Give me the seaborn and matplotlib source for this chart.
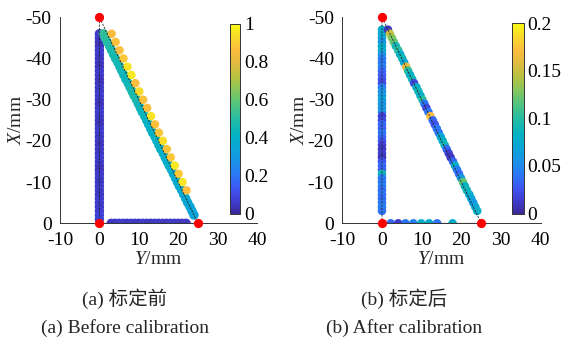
import numpy as np
import pandas as pd
import matplotlib
matplotlib.use("Agg")
import matplotlib.pyplot as plt
import seaborn as sns
from matplotlib.colors import LinearSegmentedColormap, Normalize
from matplotlib.cm import ScalarMappable

# ---------------- data ----------------
# ideal triangle path (Y, X) in mm
ideal_Y = [0, 0, 25, 0]
ideal_X = [0, -50, 0, 0]
ref_Y = [0, 0, 25]
ref_X = [-50, 0, 0]

# (a) before calibration
a_vert_X = [-46, -45, -44, -43, -42, -41, -40, -39, -38, -37, -36, -35, -34, -33, -32, -31,
            -30, -29, -28, -27, -26, -25, -24, -23, -22, -21, -20, -19, -18, -17, -16, -15,
            -14, -13, -12, -11, -10, -9, -8, -7, -6, -5, -4, -3, -2, -1]
a_vert_v = [0.06, 0.07, 0.05, 0.04, 0.06, 0.07, 0.05, 0.06, 0.04, 0.06, 0.07, 0.05, 0.04, 0.06, 0.05, 0.07,
            0.06, 0.04, 0.05, 0.07, 0.06, 0.05, 0.04, 0.06, 0.07, 0.05, 0.06, 0.04, 0.06, 0.05, 0.07, 0.06,
            0.05, 0.04, 0.06, 0.07, 0.05, 0.06, 0.07, 0.05, 0.06, 0.07, 0.06, 0.07, 0.08, 0.08]
a_bot_Y = [3, 4, 5, 6, 7, 8, 9, 10, 11, 12, 13, 14, 15, 16, 17, 18, 19, 20, 21, 22]
a_bot_v = [0.06, 0.05, 0.06, 0.07, 0.05, 0.06, 0.06, 0.05, 0.07, 0.06, 0.05, 0.06, 0.07, 0.06, 0.05,
           0.06, 0.07, 0.06, 0.05, 0.06]
a_diag_X = [-46, -45, -44, -43, -42, -41, -40, -39, -38, -37, -36, -35, -34, -33, -32, -31, -30,
            -29, -28, -27, -26, -25, -24, -23, -22, -21, -20, -19, -18, -17, -16, -15, -14, -13,
            -12, -11, -10, -9, -8, -7, -6, -5, -4, -3, -2]
a_diag_Y = [1.0, 1.5, 2.0, 2.6, 3.1, 3.6, 4.1, 4.7, 5.2, 5.7, 6.2, 6.7, 7.3, 7.8, 8.3, 8.8, 9.4,
            9.9, 10.4, 10.9, 11.5, 12.0, 12.5, 13.0, 13.5, 14.1, 14.6, 15.1, 15.6, 16.2, 16.7, 17.2,
            17.7, 18.3, 18.8, 19.3, 19.8, 20.3, 20.9, 21.4, 21.9, 22.4, 23.0, 23.5, 24.0]
a_diag_v = [0.52, 0.51, 0.50, 0.49, 0.48, 0.47, 0.46, 0.46, 0.45, 0.45, 0.44, 0.44, 0.44, 0.45, 0.47,
            0.48, 0.47, 0.45, 0.44, 0.43, 0.43, 0.42, 0.42, 0.41, 0.41, 0.42, 0.41, 0.40, 0.41, 0.40,
            0.40, 0.39, 0.40, 0.39, 0.39, 0.38, 0.38, 0.38, 0.37, 0.37, 0.36, 0.36, 0.35, 0.35, 0.34]
a_off_X = [-46, -44, -42, -40, -38, -36, -34, -32, -30, -28, -26, -24, -22, -20, -18, -16, -14,
           -12, -10, -8]
a_off_Y = [3.1, 4.1, 5.1, 6.1, 7.1, 8.1, 9.1, 10.1, 11.1, 12.1, 13.1, 14.1, 15.1, 16.1, 17.1, 18.1,
           19.1, 20.1, 21.1, 22.1]
a_off_v = [0.85, 0.87, 0.86, 0.88, 0.95, 0.96, 0.86, 0.93, 0.87, 0.86, 0.95, 0.87, 0.88, 0.94,
           0.87, 0.88, 0.96, 0.88, 0.95, 0.86]

# (b) after calibration
b_vert_X = [-47, -46, -45, -44, -43, -42, -41, -40, -39, -38, -37, -36, -35, -34, -33, -32, -31,
            -30, -29, -28, -27, -26, -25, -24, -23, -22, -21, -20, -19, -18, -17, -16, -15, -14,
            -13, -12, -11, -10, -9, -8, -7, -6, -5, -4, -3]
b_vert_v = [0.08, 0.075, 0.07, 0.055, 0.075, 0.08, 0.06, 0.045, 0.04, 0.045, 0.035, 0.03, 0.025,
            0.02, 0.045, 0.055, 0.06, 0.065, 0.055, 0.06, 0.055, 0.015, 0.02, 0.035, 0.03, 0.04,
            0.035, 0.025, 0.015, 0.01, 0.015, 0.008, 0.025, 0.035, 0.03, 0.09, 0.045, 0.04, 0.045, 0.035,
            0.04, 0.035, 0.04, 0.045, 0.04]
b_diag_X = b_vert_X
b_diag_Y = [1.5, 2.0, 2.5, 3.0, 3.5, 4.1, 4.6, 5.1, 5.6, 6.1, 6.6, 7.1, 7.6, 8.1, 8.7, 9.2, 9.7,
            10.2, 10.7, 11.2, 11.7, 12.2, 12.8, 13.3, 13.8, 14.3, 14.8, 15.3, 15.8, 16.3, 16.8,
            17.3, 17.9, 18.4, 18.9, 19.4, 19.9, 20.4, 20.9, 21.4, 22.0, 22.5, 23.0, 23.5, 24.0]
b_diag_v = [0.01, 0.15, 0.13, 0.12, 0.09, 0.10, 0.08, 0.09, 0.07, 0.16, 0.10, 0.08, 0.09, 0.02,
            0.08, 0.09, 0.08, 0.10, 0.04, 0.02, 0.04, 0.17, 0.035, 0.025, 0.04, 0.04, 0.07, 0.08,
            0.09, 0.035, 0.015, 0.01, 0.035, 0.08, 0.045, 0.035, 0.06, 0.12, 0.085, 0.09, 0.08, 0.07,
            0.06, 0.07, 0.08]
b_bot_Y = [2.2, 4.1, 5.9, 7.9, 9.9, 11.9, 13.9, 17.8]
b_bot_v = [0.035, 0.012, 0.04, 0.045, 0.08, 0.075, 0.04, 0.08]

xticks = [-10, 0, 10, 20, 30, 40]
yticks = [0, -10, -20, -30, -40, -50]
cb_ticks_a = [0, 0.2, 0.4, 0.6, 0.8, 1]
cb_labels_a = ["0", "0.2", "0.4", "0.6", "0.8", "1"]
cb_ticks_b = [0, 0.05, 0.1, 0.15, 0.2]
cb_labels_b = ["0", "0.05", "0.1", "0.15", "0.2"]
captions_cn = ["(a) 标定前", "(b) 标定后"]
captions_en = ["(a) Before calibration", "(b) After calibration"]

# ---------------- style ----------------
sns.set_style("white")
plt.rcParams["font.family"] = ["Liberation Serif", "Noto Sans CJK SC"]
plt.rcParams["axes.unicode_minus"] = False
plt.rcParams["mathtext.fontset"] = "custom"
plt.rcParams["mathtext.it"] = "Liberation Serif:italic"
plt.rcParams["mathtext.rm"] = "Liberation Serif"

parula = LinearSegmentedColormap.from_list("parula", [
    (0.00, (0.230, 0.160, 0.600)),
    (0.07, (0.250, 0.240, 0.820)),
    (0.14, (0.240, 0.350, 0.960)),
    (0.21, (0.160, 0.480, 0.960)),
    (0.28, (0.100, 0.580, 0.900)),
    (0.35, (0.040, 0.650, 0.840)),
    (0.42, (0.020, 0.700, 0.760)),
    (0.50, (0.150, 0.740, 0.640)),
    (0.58, (0.330, 0.770, 0.490)),
    (0.65, (0.530, 0.780, 0.360)),
    (0.72, (0.720, 0.760, 0.250)),
    (0.79, (0.880, 0.730, 0.250)),
    (0.86, (0.990, 0.740, 0.240)),
    (0.93, (0.970, 0.850, 0.170)),
    (1.00, (0.977, 0.984, 0.081)),
])

FS = 14
SPINE = "#333333"

fig = plt.figure(figsize=(5.68, 3.40), dpi=100)
ax_a = fig.add_axes([60 / 568, 1 - 223.3 / 340, 197 / 568, 206 / 340])
ax_b = fig.add_axes([342.3 / 568, 1 - 223.3 / 340, 198.4 / 568, 206 / 340])
cax_a = fig.add_axes([229.5 / 568, 1 - 214 / 340, 11 / 568, 190.5 / 340])
cax_b = fig.add_axes([512 / 568, 1 - 213.5 / 340, 11.5 / 568, 190.5 / 340])


def scat(ax, Y, X, v, norm, s):
    df = pd.DataFrame({"Y": Y, "X": X, "v": v})
    sns.scatterplot(data=df, x="Y", y="X", hue="v", palette=parula, hue_norm=norm,
                    s=s, linewidth=0, edgecolor="none", legend=False, ax=ax, zorder=2)


norm_a = Normalize(0, 1)
norm_b = Normalize(0, 0.2)

# (a)
scat(ax_a, [0] * len(a_vert_X), a_vert_X, a_vert_v, norm_a, 46)
scat(ax_a, a_bot_Y, [0] * len(a_bot_Y), a_bot_v, norm_a, 46)
scat(ax_a, a_diag_Y, a_diag_X, a_diag_v, norm_a, 46)
scat(ax_a, a_off_Y, a_off_X, a_off_v, norm_a, 38)

# (b)
scat(ax_b, [0] * len(b_vert_X), b_vert_X, b_vert_v, norm_b, 38)
scat(ax_b, b_diag_Y, b_diag_X, b_diag_v, norm_b, 38)
scat(ax_b, b_bot_Y, [0] * len(b_bot_Y), b_bot_v, norm_b, 38)

for ax, cax, norm, cbt, cbl, cn, en, cx in [
        (ax_a, cax_a, norm_a, cb_ticks_a, cb_labels_a, captions_cn[0], captions_en[0], 125 / 568),
        (ax_b, cax_b, norm_b, cb_ticks_b, cb_labels_b, captions_cn[1], captions_en[1], 404 / 568)]:
    ax.plot(ideal_Y, ideal_X, color="#222222", lw=0.6, ls=(0, (2.5, 1.5)), zorder=3)
    ax.scatter(ref_Y, ref_X, s=44, color="#ff0000", linewidths=0, zorder=4, clip_on=False)
    ax.set_xlim(-10, 40)
    ax.set_ylim(0, -50)
    ax.set_xticks(xticks)
    ax.set_yticks(yticks)
    ax.set_xticklabels([str(t) for t in xticks])
    ax.set_yticklabels([str(t) for t in yticks])
    ax.tick_params(direction="in", length=3, width=0.6, colors=SPINE, labelsize=FS,
                   labelcolor="black")
    ax.tick_params(axis="x", pad=6)
    ax.tick_params(axis="y", pad=6)
    for sp in ["top", "right"]:
        ax.spines[sp].set_visible(False)
    for sp in ["left", "bottom"]:
        ax.spines[sp].set_color(SPINE)
        ax.spines[sp].set_linewidth(0.7)
    ax.set_xlabel("$\\mathit{Y}$/mm", fontsize=FS, labelpad=2)
    ax.set_ylabel("$\\mathit{X}$/mm", fontsize=FS, labelpad=0)
    ax.patch.set_alpha(0)

    sm = ScalarMappable(norm=norm, cmap=parula)
    cb = fig.colorbar(sm, cax=cax)
    cb.set_ticks(cbt)
    cb.set_ticklabels(cbl)
    cb.outline.set_edgecolor(SPINE)
    cb.outline.set_linewidth(0.7)
    cax.tick_params(direction="in", length=2.5, width=0.6, colors=SPINE, labelsize=FS,
                    labelcolor="black", pad=3)

    fig.text(cx, 1 - 299 / 340, cn, ha="center", va="center", fontsize=FS)
    fig.text(cx, 1 - 328 / 340, en, ha="center", va="center", fontsize=FS)

fig.savefig("out.png", dpi=100)
